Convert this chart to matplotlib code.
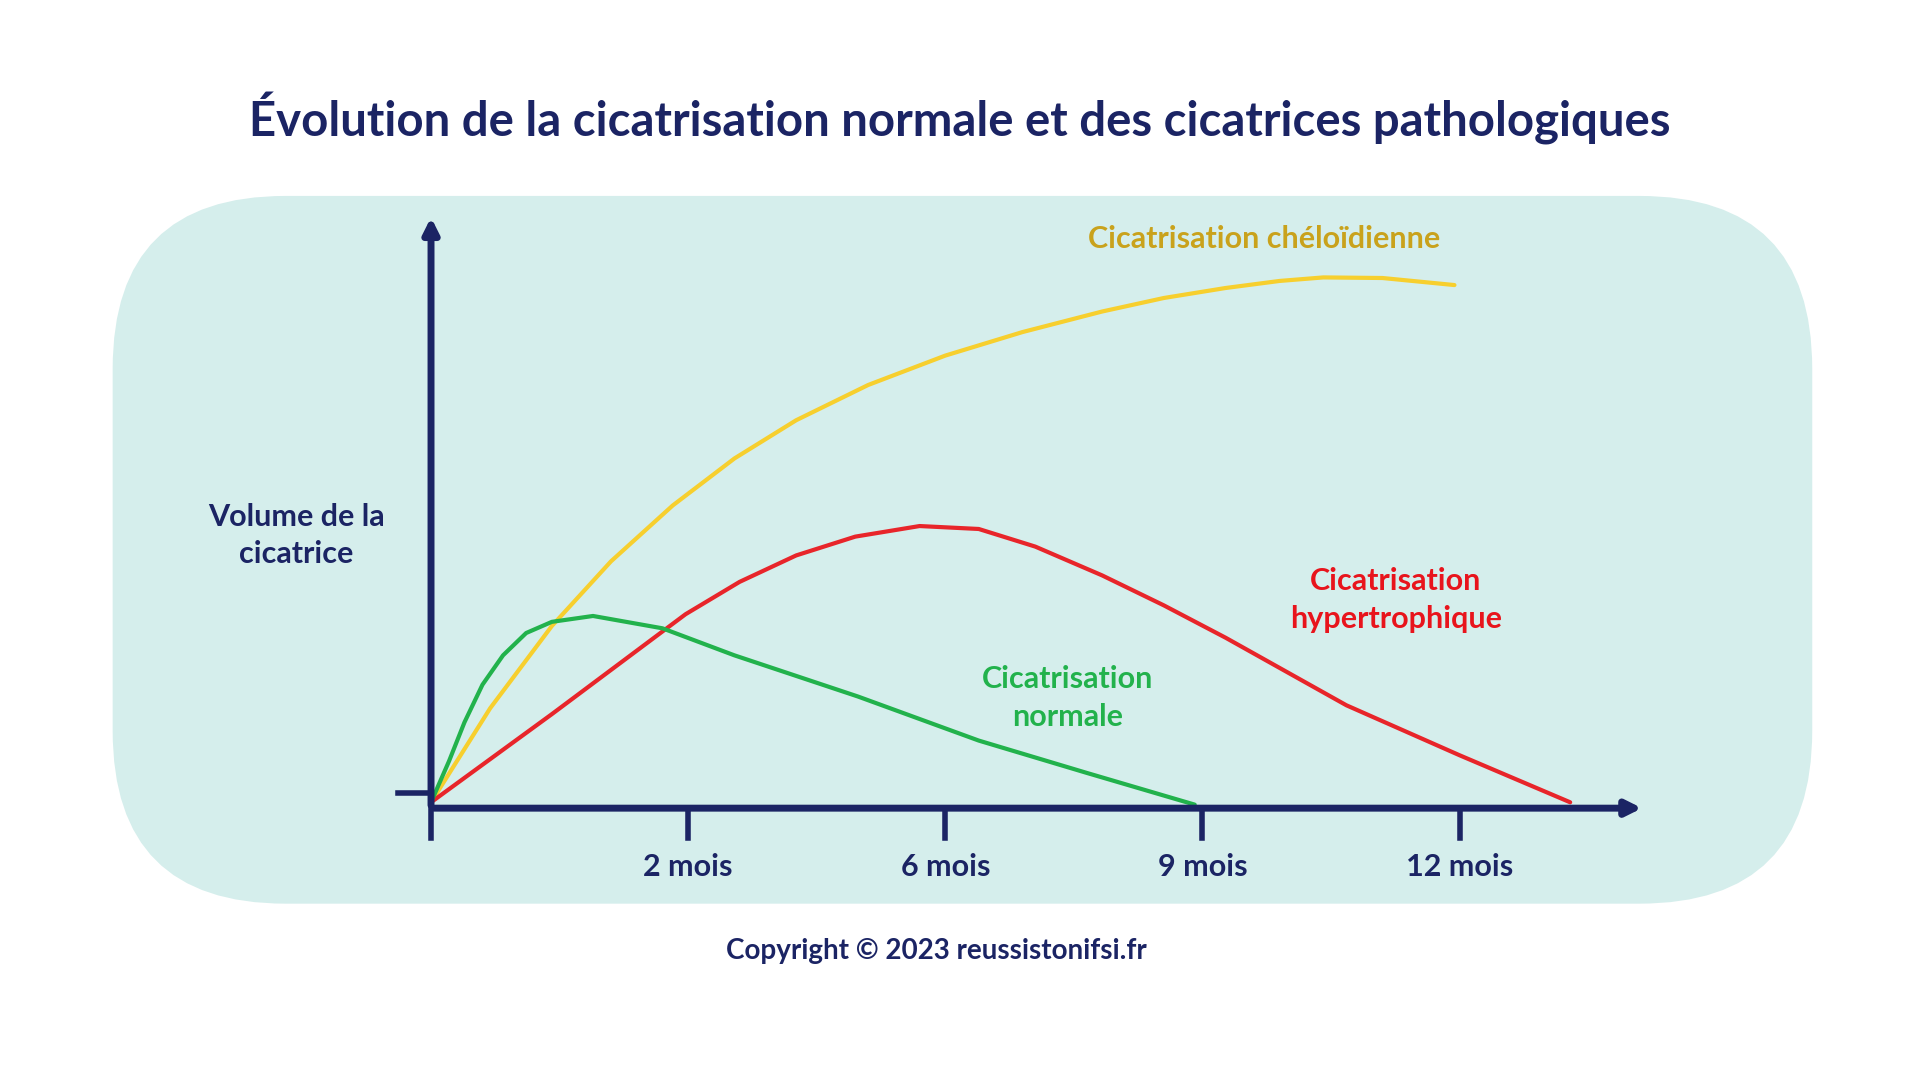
import matplotlib
matplotlib.use("Agg")
import matplotlib.pyplot as plt
from matplotlib.patches import FancyBboxPatch

tick_pos = [0, 1, 2, 3, 4]
tick_labels = ["", "2 mois", "6 mois", "9 mois", "12 mois"]

kel_x = [0, 0.23, 0.47, 0.7, 0.94, 1.18, 1.42, 1.7, 2.0, 2.3, 2.61, 2.85, 3.09, 3.3, 3.47, 3.7, 3.98]
kel_y = [0.1, 1.7, 3.1, 4.2, 5.15, 5.95, 6.6, 7.2, 7.7, 8.1, 8.45, 8.68, 8.85, 8.97, 9.03, 9.02, 8.9]
hyp_x = [0, 0.47, 0.99, 1.2, 1.42, 1.65, 1.9, 2.13, 2.35, 2.61, 2.85, 3.09, 3.56, 4.0, 4.43]
hyp_y = [0.1, 1.6, 3.3, 3.85, 4.3, 4.62, 4.8, 4.75, 4.45, 3.96, 3.45, 2.9, 1.75, 0.9, 0.1]
nor_x = [0, 0.07, 0.13, 0.2, 0.28, 0.37, 0.47, 0.63, 0.9, 1.18, 1.66, 2.13, 2.55, 2.97]
nor_y = [0.1, 0.8, 1.46, 2.1, 2.6, 2.98, 3.17, 3.27, 3.06, 2.6, 1.9, 1.15, 0.6, 0.06]

navy = "#1b2464"
W, H = 1568, 882
fig = plt.figure(figsize=(19.2, 10.8), dpi=100)
fig.patch.set_facecolor("white")

bg = FancyBboxPatch((92 / W, 1 - 738 / H), 1388 / W, 578 / H,
                    boxstyle="round,pad=0,rounding_size=0.09",
                    transform=fig.transFigure, facecolor="#d5eeec", edgecolor="none",
                    mutation_aspect=W / H, zorder=-5)
fig.patches.append(bg)

fig.text(0.5, 1 - 97 / H, "Évolution de la cicatrisation normale et des cicatrices pathologiques",
         ha="center", va="center", fontsize=34, fontweight="bold", color=navy, family="Lato")

ax = fig.add_axes([352 / W, 1 - 660 / H, 987 / W, 480 / H])
ax.set_zorder(5)
ax.set_xlim(0, 4.7)
ax.set_ylim(0, 10)
ax.axis("off")
ax.patch.set_alpha(0)

ax.plot(kel_x, kel_y, color="#f7cf2e", lw=3, solid_capstyle="round")
ax.plot(hyp_x, hyp_y, color="#e8252a", lw=3, solid_capstyle="round")
ax.plot(nor_x, nor_y, color="#22b24c", lw=3, solid_capstyle="round")

ax.annotate("", xy=(4.72, 0), xytext=(0, 0), xycoords="data",
            arrowprops=dict(arrowstyle="-|>,head_length=0.9,head_width=0.45", color=navy, lw=5),
            annotation_clip=False)
ax.annotate("", xy=(0, 10.1), xytext=(0, 0), xycoords="data",
            arrowprops=dict(arrowstyle="-|>,head_length=0.9,head_width=0.45", color=navy, lw=5),
            annotation_clip=False)
ax.plot([-0.13, 0], [0.25, 0.25], color=navy, lw=4, clip_on=False)
for p, lab in zip(tick_pos, tick_labels):
    ax.plot([p, p], [0, -0.5], color=navy, lw=4, clip_on=False)
    if lab:
        ax.text(p, -1.0, lab, ha="center", va="center", fontsize=22, fontweight="bold",
                color=navy, family="Lato")

fig.text(242 / W, 1 - 437 / H, "Volume de la\ncicatrice", ha="center", va="center",
         fontsize=22, fontweight="bold", color=navy, family="Lato", linespacing=1.4)
fig.text(1032 / W, 1 - 195 / H, "Cicatrisation chéloïdienne", ha="center", va="center",
         fontsize=22, fontweight="bold", color="#c9a21c", family="Lato")
fig.text(1140 / W, 1 - 490 / H, "Cicatrisation\nhypertrophique", ha="center", va="center",
         fontsize=22, fontweight="bold", color="#e8141c", family="Lato", linespacing=1.4)
fig.text(872 / W, 1 - 570 / H, "Cicatrisation\nnormale", ha="center", va="center",
         fontsize=22, fontweight="bold", color="#22b24c", family="Lato", linespacing=1.4)
fig.text(765 / W, 1 - 777 / H, "Copyright © 2023 reussistonifsi.fr", ha="center", va="center",
         fontsize=20, fontweight="bold", color=navy, family="Lato")

fig.savefig("out.png", dpi=100, facecolor="white")
